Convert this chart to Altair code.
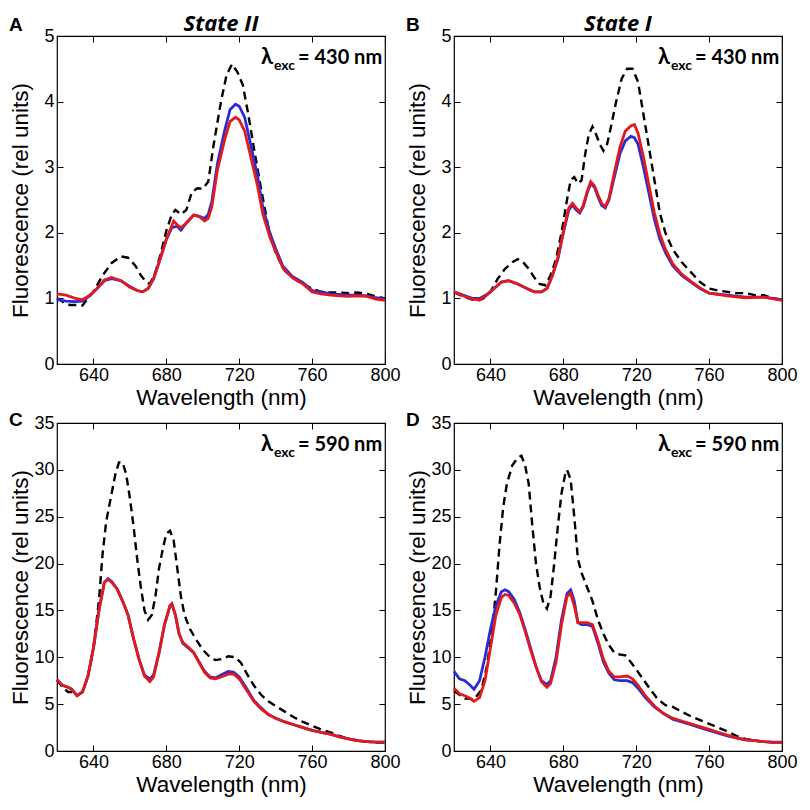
import altair as alt
import pandas as pd

# ---------------- Panel A : State II, excitation 430 nm ----------------
A_black_wl = [620, 622, 624, 627, 630, 634, 636, 640, 645, 650, 655, 659, 663, 666, 669, 671, 674, 677, 680, 683, 685, 688, 691, 694, 697, 700, 703, 706, 710, 713, 716, 719, 722, 725, 728, 732, 736, 740, 745, 750, 755, 760, 765, 770, 775, 780, 785, 790, 795, 800]
A_black = [1.0, 0.97, 0.93, 0.9, 0.9, 0.89, 0.97, 1.1, 1.35, 1.54, 1.64, 1.62, 1.5, 1.35, 1.25, 1.22, 1.4, 1.69, 2.03, 2.28, 2.35, 2.28, 2.35, 2.62, 2.68, 2.67, 2.78, 3.35, 4.0, 4.4, 4.57, 4.45, 4.25, 3.8, 3.3, 2.67, 2.08, 1.69, 1.42, 1.3, 1.22, 1.15, 1.1, 1.09, 1.09, 1.08, 1.09, 1.07, 1.03, 1.0]
A_blue_wl = [620, 625, 630, 634, 638, 642, 646, 650, 655, 660, 664, 667, 670, 673, 676, 680, 683, 686, 688, 691, 695, 698, 701, 703, 705, 708, 712, 715, 718, 720, 723, 726, 730, 733, 737, 741, 744, 749, 755, 760, 765, 770, 775, 780, 785, 790, 795, 800]
A_blue = [0.98, 0.96, 0.95, 0.96, 1.04, 1.15, 1.27, 1.3, 1.27, 1.18, 1.12, 1.1, 1.15, 1.3, 1.55, 1.9, 2.08, 2.1, 2.04, 2.15, 2.27, 2.25, 2.22, 2.28, 2.48, 3.05, 3.56, 3.88, 3.96, 3.93, 3.76, 3.38, 2.87, 2.38, 1.98, 1.69, 1.49, 1.34, 1.24, 1.12, 1.1, 1.07, 1.06, 1.05, 1.05, 1.04, 1.01, 0.99]
A_red_wl = [620, 625, 630, 634, 638, 642, 646, 650, 655, 660, 664, 667, 670, 673, 676, 680, 684, 686, 688, 691, 695, 698, 701, 703, 705, 708, 712, 715, 718, 720, 723, 726, 730, 733, 737, 741, 744, 749, 755, 760, 765, 770, 775, 780, 785, 790, 795, 800]
A_red = [1.07, 1.05, 1.0, 0.98, 1.05, 1.15, 1.28, 1.32, 1.27, 1.17, 1.12, 1.1, 1.15, 1.3, 1.55, 1.9, 2.18, 2.12, 2.08, 2.15, 2.27, 2.25, 2.18, 2.22, 2.4, 2.95, 3.42, 3.7, 3.76, 3.72, 3.55, 3.2, 2.72, 2.28, 1.92, 1.65, 1.46, 1.32, 1.22, 1.1, 1.07, 1.05, 1.04, 1.03, 1.04, 1.03, 0.99, 0.97]

# ---------------- Panel B : State I, excitation 430 nm ----------------
B_black_wl = [620, 625, 630, 633, 636, 640, 644, 648, 652, 655, 658, 661, 664, 667, 670, 673, 676, 679, 682, 684, 686, 688, 690, 692, 694, 696, 698, 700, 702, 704, 706, 709, 712, 715, 718, 721, 724, 727, 730, 733, 736, 740, 745, 750, 755, 760, 765, 770, 775, 780, 785, 790, 795, 800]
B_black = [1.09, 1.03, 0.98, 0.96, 1.0, 1.1, 1.3, 1.45, 1.55, 1.6, 1.55, 1.45, 1.32, 1.22, 1.2, 1.35, 1.6, 2.0, 2.5, 2.8, 2.85, 2.75, 2.8, 3.2, 3.5, 3.62, 3.5, 3.35, 3.25, 3.35, 3.6, 4.0, 4.35, 4.5, 4.5, 4.3, 3.8, 3.3, 2.8, 2.3, 2.0, 1.75, 1.55, 1.4, 1.25, 1.15, 1.12, 1.1, 1.08, 1.08, 1.05, 1.05, 1.0, 0.98]
B_blue_wl = [620, 625, 630, 634, 638, 642, 646, 650, 655, 660, 664, 668, 671, 674, 677, 680, 683, 685, 687, 689, 691, 693, 695, 697, 699, 701, 703, 705, 708, 711, 714, 717, 719, 721, 724, 727, 730, 733, 736, 740, 745, 750, 755, 760, 770, 780, 790, 800]
B_blue = [1.1, 1.05, 1.0, 1.0, 1.06, 1.15, 1.25, 1.27, 1.22, 1.15, 1.1, 1.1, 1.15, 1.35, 1.6, 2.0, 2.35, 2.42, 2.35, 2.3, 2.4, 2.6, 2.75, 2.7, 2.55, 2.42, 2.38, 2.5, 2.85, 3.2, 3.4, 3.47, 3.45, 3.35, 3.0, 2.6, 2.2, 1.9, 1.7, 1.5, 1.35, 1.25, 1.15, 1.08, 1.05, 1.02, 1.02, 0.98]
B_red_wl = [620, 625, 630, 634, 638, 642, 646, 650, 655, 660, 664, 668, 671, 674, 677, 680, 683, 685, 687, 689, 691, 693, 695, 697, 699, 701, 703, 705, 708, 711, 714, 717, 719, 721, 724, 727, 730, 733, 736, 740, 745, 750, 755, 760, 770, 780, 790, 800]
B_red = [1.1, 1.04, 0.99, 0.98, 1.05, 1.15, 1.25, 1.27, 1.22, 1.15, 1.1, 1.1, 1.15, 1.35, 1.62, 2.02, 2.38, 2.45, 2.38, 2.32, 2.42, 2.62, 2.78, 2.72, 2.58, 2.45, 2.4, 2.52, 2.92, 3.3, 3.55, 3.63, 3.65, 3.52, 3.15, 2.72, 2.3, 1.98, 1.75, 1.53, 1.37, 1.26, 1.16, 1.08, 1.04, 1.01, 1.02, 0.97]

# ---------------- Panel C : State II, excitation 590 nm ----------------
C_black_wl = [620, 623, 626, 628, 631, 634, 637, 640, 643, 645, 647, 650, 652, 654, 656, 658, 660, 662, 664, 666, 668, 670, 672, 674, 676, 678, 680, 682, 684, 686, 688, 690, 693, 696, 700, 704, 707, 710, 714, 718, 721, 724, 728, 732, 736, 740, 745, 750, 755, 760, 765, 770, 775, 780, 785, 790, 795, 800]
C_black = [7.6, 6.8, 6.3, 6.3, 5.9, 6.3, 8.0, 11.0, 16.0, 21.0, 24.5, 27.5, 29.5, 30.8, 30.8, 29.5, 27.0, 24.0, 20.5, 17.5, 15.0, 14.0, 14.5, 16.5, 19.5, 21.5, 23.2, 23.5, 22.5, 19.5, 16.5, 14.5, 13.0, 12.0, 10.8, 10.0, 9.7, 9.8, 10.1, 10.0, 9.4, 8.3, 7.0, 6.0, 5.3, 4.8, 4.2, 3.6, 3.1, 2.7, 2.3, 2.0, 1.6, 1.3, 1.1, 1.0, 0.9, 0.9]
C_blue_wl = [620, 623, 626, 628, 631, 634, 637, 640, 643, 646, 648, 650, 653, 656, 659, 662, 665, 668, 671, 673, 676, 679, 682, 683, 685, 687, 689, 692, 695, 698, 701, 704, 707, 710, 714, 717, 720, 724, 728, 732, 736, 740, 745, 750, 755, 760, 765, 770, 775, 780, 785, 790, 795, 800]
C_blue = [7.6, 7.0, 6.8, 6.6, 5.9, 6.3, 8.0, 11.0, 15.0, 18.0, 18.4, 18.1, 17.3, 16.0, 14.5, 12.0, 9.8, 8.1, 7.7, 8.1, 10.5, 13.5, 15.5, 15.7, 14.5, 12.5, 11.5, 11.0, 10.5, 9.5, 8.5, 7.9, 7.8, 8.1, 8.5, 8.4, 7.9, 6.7, 5.4, 4.6, 3.9, 3.5, 3.1, 2.8, 2.5, 2.2, 2.0, 1.8, 1.5, 1.3, 1.1, 1.0, 0.95, 0.95]
C_red_wl = [620, 623, 626, 628, 631, 634, 637, 640, 643, 646, 648, 650, 653, 656, 659, 662, 665, 668, 671, 673, 676, 679, 682, 683, 685, 687, 689, 692, 695, 698, 701, 704, 707, 710, 714, 717, 720, 724, 728, 732, 736, 740, 745, 750, 755, 760, 765, 770, 775, 780, 785, 790, 795, 800]
C_red = [7.6, 7.0, 6.8, 6.6, 5.9, 6.3, 8.0, 11.0, 15.0, 18.0, 18.3, 18.0, 17.3, 16.0, 14.5, 12.0, 9.8, 8.0, 7.4, 7.9, 10.5, 13.5, 15.5, 15.7, 14.5, 12.5, 11.6, 11.1, 10.5, 9.4, 8.4, 7.8, 7.7, 7.9, 8.2, 8.2, 7.7, 6.5, 5.3, 4.5, 3.9, 3.5, 3.1, 2.8, 2.5, 2.2, 2.0, 1.8, 1.5, 1.3, 1.1, 1.0, 0.95, 0.95]

# ---------------- Panel D : State I, excitation 590 nm ----------------
D_black_wl = [620, 623, 626, 628, 631, 635, 638, 641, 643, 645, 647, 649, 652, 655, 657, 659, 661, 663, 665, 667, 669, 671, 673, 675, 677, 679, 681, 682, 684, 686, 688, 690, 693, 696, 699, 702, 705, 708, 711, 714, 717, 720, 724, 728, 732, 736, 740, 745, 750, 755, 760, 765, 770, 775, 780, 785, 790, 795, 800]
D_black = [6.4, 6.0, 5.6, 5.6, 5.5, 6.5, 9.0, 13.0, 17.0, 22.0, 26.0, 28.5, 30.5, 31.3, 31.5, 30.5, 28.5, 24.0, 20.0, 17.5, 15.8, 15.2, 16.5, 20.0, 24.0, 27.5, 29.5, 30.0, 29.0, 25.0, 20.5, 19.0, 17.5, 16.0, 14.0, 12.5, 11.3, 10.5, 10.3, 10.2, 9.5, 8.7, 7.6, 6.5, 5.5, 4.9, 4.7, 4.2, 3.7, 3.3, 2.9, 2.5, 2.1, 1.6, 1.3, 1.1, 1.0, 0.95, 0.9]
D_blue_wl = [620, 623, 626, 629, 631, 634, 637, 640, 643, 646, 648, 650, 653, 656, 659, 662, 665, 668, 671, 673, 676, 679, 682, 684, 686, 688, 690, 693, 696, 699, 702, 705, 708, 711, 715, 718, 721, 725, 730, 735, 740, 745, 750, 755, 760, 765, 770, 775, 780, 785, 790, 795, 800]
D_blue = [8.5, 7.7, 7.5, 7.0, 6.6, 7.5, 10.0, 13.0, 15.5, 17.0, 17.2, 17.0, 16.2, 14.8, 13.0, 11.0, 9.0, 7.5, 7.1, 7.5, 10.0, 14.0, 16.8, 17.2, 16.0, 13.7, 13.5, 13.5, 13.3, 11.5, 9.5, 8.3, 7.6, 7.5, 7.5, 7.3, 6.7, 5.7, 4.7, 4.0, 3.4, 3.1, 2.8, 2.5, 2.2, 1.9, 1.6, 1.4, 1.2, 1.1, 1.0, 0.95, 0.95]
D_red_wl = [620, 623, 626, 629, 631, 634, 637, 640, 643, 646, 648, 650, 653, 656, 659, 662, 665, 668, 671, 673, 676, 679, 682, 684, 686, 688, 690, 693, 696, 699, 702, 705, 708, 711, 715, 718, 721, 725, 730, 735, 740, 745, 750, 755, 760, 765, 770, 775, 780, 785, 790, 795, 800]
D_red = [6.7, 6.1, 5.9, 5.6, 5.3, 5.7, 7.5, 11.0, 14.5, 16.4, 16.7, 16.6, 15.8, 14.6, 12.8, 10.8, 9.0, 7.4, 6.8, 7.2, 9.5, 13.5, 16.5, 16.8, 15.5, 13.7, 13.7, 13.7, 13.5, 11.8, 9.8, 8.5, 7.9, 7.9, 8.0, 7.7, 7.0, 5.9, 4.8, 4.0, 3.5, 3.2, 2.9, 2.6, 2.3, 2.0, 1.7, 1.4, 1.2, 1.1, 1.0, 0.9, 0.9]

x_labels = [640, 680, 720, 760, 800]

BLACK = "#000000"
BLUE = "#2b2bd6"
RED = "#e31a1c"
LABEL_FONT = "Arial, Liberation Sans, sans-serif"
W, H = 328, 328


def df(wl, vals):
    return pd.DataFrame({"wl": wl, "f": vals})


def panel(black, blue, red, ymax, ystep, letter, exc, letter_dy, title_text=None):
    xs = alt.Scale(domain=[620, 800], nice=False, zero=False)
    ys = alt.Scale(domain=[0, ymax], nice=False, zero=True)
    yvals = list(range(0, ymax + 1, ystep))

    x_main = alt.Axis(orient="bottom", values=x_labels, offset=-6, tickSize=6,
                      tickColor="black", tickWidth=1, domain=False, grid=False,
                      labelPadding=2, labelFontSize=18, labelColor="black",
                      labelFont=LABEL_FONT, labelOverlap=False, labelFlush=False,
                      minExtent=0,
                      title="Wavelength (nm)", titleFontSize=22.5, titleFont=LABEL_FONT,
                      titleFontWeight="normal", titleColor="black", titlePadding=2)
    y_main = alt.Axis(orient="left", values=yvals, offset=-6, tickSize=6,
                      tickColor="black", tickWidth=1, domain=False, grid=False,
                      labelPadding=3, labelFontSize=18, labelColor="black",
                      labelFont=LABEL_FONT, labelOverlap=False, labelFlush=False,
                      minExtent=0,
                      title="Fluorescence (rel units)", titleFontSize=22.5,
                      titleFont=LABEL_FONT, titleFontWeight="normal", titleColor="black",
                      titleX=-31, titleY=H / 2, titleAngle=-90, titleBaseline="bottom",
                      titleAlign="center")
    x_top = alt.Axis(orient="top", values=x_labels, offset=-6, tickSize=6,
                     tickColor="black", tickWidth=1, domain=False, grid=False,
                     labels=False, title=None, minExtent=0, maxExtent=0)
    y_right = alt.Axis(orient="right", values=yvals, offset=-6, tickSize=6,
                       tickColor="black", tickWidth=1, domain=False, grid=False,
                       labels=False, title=None, minExtent=0, maxExtent=0)

    ticks_layer = alt.Chart(df(*black)).mark_line(opacity=0).encode(
        x=alt.X("wl:Q", scale=xs, axis=x_top),
        y=alt.Y("f:Q", scale=ys, axis=y_right),
    )
    black_layer = alt.Chart(df(*black)).mark_line(
        color=BLACK, strokeWidth=2.4, strokeDash=[8, 5]).encode(
        x=alt.X("wl:Q", scale=xs, axis=x_main),
        y=alt.Y("f:Q", scale=ys, axis=y_main),
    )
    blue_layer = alt.Chart(df(*blue)).mark_line(color=BLUE, strokeWidth=2.8).encode(
        x=alt.X("wl:Q", scale=xs, axis=None),
        y=alt.Y("f:Q", scale=ys, axis=None),
    )
    red_layer = alt.Chart(df(*red)).mark_line(color=RED, strokeWidth=2.8).encode(
        x=alt.X("wl:Q", scale=xs, axis=None),
        y=alt.Y("f:Q", scale=ys, axis=None),
    )

    one = pd.DataFrame({"k": [0]})
    layers = [ticks_layer, black_layer, blue_layer, red_layer]
    layers.append(alt.Chart(one).mark_text(text="λ", font="Lato", fontWeight="bold", fontSize=22,
                                           align="left", baseline="alphabetic", color="black").encode(
        x=alt.value(W - 124), y=alt.value(28)))
    layers.append(alt.Chart(one).mark_text(text="exc", font="Lato", fontWeight="bold", fontSize=14,
                                           align="left", baseline="alphabetic", color="black").encode(
        x=alt.value(W - 111), y=alt.value(34)))
    layers.append(alt.Chart(one).mark_text(text="= " + exc + " nm", font="Lato", fontWeight="bold",
                                           fontSize=20, align="left", baseline="alphabetic",
                                           color="black").encode(
        x=alt.value(W - 87), y=alt.value(28)))
    layers.append(alt.Chart(one).mark_text(text=letter, font=LABEL_FONT, fontWeight="bold",
                                           fontSize=19, align="left", baseline="alphabetic",
                                           color="black").encode(
        x=alt.value(-48), y=alt.value(letter_dy)))
    if title_text:
        layers.append(alt.Chart(one).mark_text(text=title_text, font="Open Sans", fontWeight="bold",
                                               fontStyle="italic", fontSize=22, align="center",
                                               baseline="alphabetic", color="black").encode(
            x=alt.value(W / 2), y=alt.value(-5)))

    return alt.layer(*layers).resolve_axis(
        x="independent", y="independent").properties(width=W, height=H)


pA = panel((A_black_wl, A_black), (A_blue_wl, A_blue), (A_red_wl, A_red), 5, 1, "A", "430", -5, "State II")
pB = panel((B_black_wl, B_black), (B_blue_wl, B_blue), (B_red_wl, B_red), 5, 1, "B", "430", -5, "State I")
pC = panel((C_black_wl, C_black), (C_blue_wl, C_blue), (C_red_wl, C_red), 35, 5, "C", "590", 3)
pD = panel((D_black_wl, D_black), (D_blue_wl, D_blue), (D_red_wl, D_red), 35, 5, "D", "590", 3)

chart = alt.vconcat(
    alt.hconcat(pA, pB, spacing=4),
    alt.hconcat(pC, pD, spacing=4),
    spacing=0,
).properties(padding={"left": 0, "top": 4, "right": 0, "bottom": 0}).configure_view(
    stroke="black", strokeWidth=1.2)

chart.save("out.html", embed_options={"renderer": "svg", "actions": False})
